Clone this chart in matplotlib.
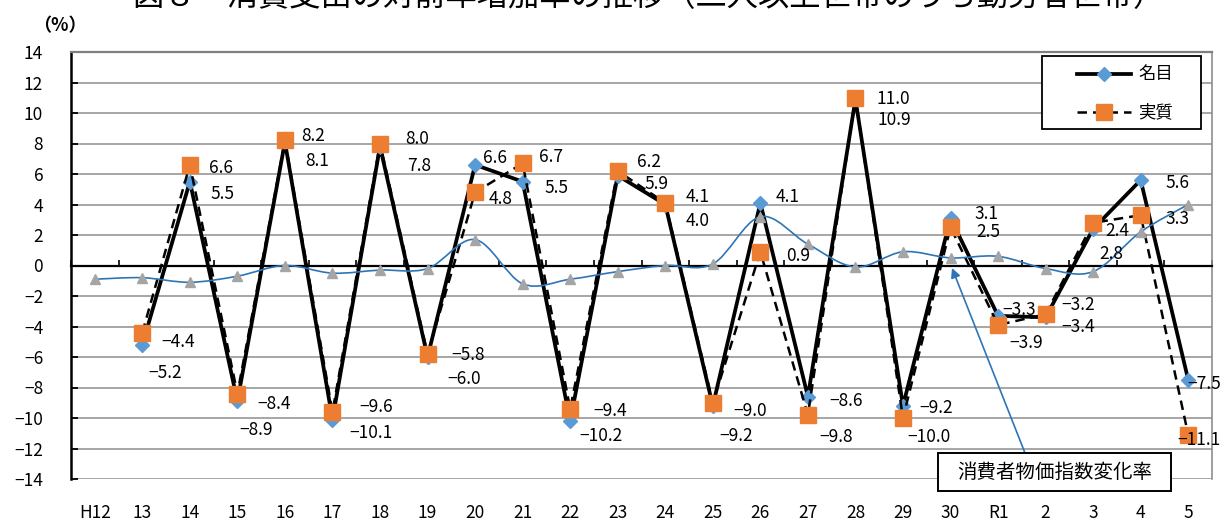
import numpy as np
import matplotlib
matplotlib.use("Agg")
import matplotlib.pyplot as plt
from matplotlib.path import Path
from matplotlib.patches import PathPatch, Rectangle
from matplotlib.lines import Line2D

plt.rcParams['font.family'] = ['Noto Sans CJK JP', 'DejaVu Sans']

# ---- data -------------------------------------------------------------
years = ['H12', '13', '14', '15', '16', '17', '18', '19', '20', '21', '22',
         '23', '24', '25', '26', '27', '28', '29', '30', 'R1', '2', '3', '4', '5']

# 名目 (nominal) and 実質 (real) year-on-year change of consumption expenditure, %
nominal = [np.nan, -5.2, 5.5, -8.9, 8.1, -10.1, 7.8, -6.0, 6.6, 5.5, -10.2,
           5.9, 4.0, -9.2, 4.1, -8.6, 10.9, -9.2, 3.1, -3.3, -3.4, 2.4, 5.6, -7.5]
real = [np.nan, -4.4, 6.6, -8.4, 8.2, -9.6, 8.0, -5.8, 4.8, 6.7, -9.4,
        6.2, 4.1, -9.0, 0.9, -9.8, 11.0, -10.0, 2.5, -3.9, -3.2, 2.8, 3.3, -11.1]

# consumer price index change, %
cpi = [-0.9, -0.8, -1.1, -0.7, 0.0, -0.5, -0.3, -0.2, 1.7, -1.2, -0.9,
       -0.4, 0.0, 0.1, 3.2, 1.4, -0.1, 0.9, 0.5, 0.6, -0.2, -0.4, 2.2, 4.0]

# value-label offsets in pixels (dx to the right, dy downward) per category
nom_dx = [0, 6.5, 21, 1.5, 20, 16.5, 27, 19.5, 8, 21.5, 9, 26.5, 20, 6.5, 15,
          21.5, 22, 16.5, 24, 4.5, 16, 12.5, 25, -0.5]
nom_dy = [0, 28, 12, 29, 19.5, 13, 19, 21.5, -7, 6, 14.5, 8, 17, 30, -5.5,
          4, 21, 2, -4, -6, 10, 2, 3, 4]
real_dx = [0, 19.5, 19, 19.5, 16, 26.5, 25, 23.5, 14, 16.5, 23, 19.5, 20, 20.5,
           26, 11.5, 21, 4.5, 26, 11.5, 16, 6.5, 25, -10.5]
real_dy = [0, 9, 3, 10, -4, -5, -4, 1, 7, -6, 2, -9, -5.5, 8, 4, 22.5, 1,
           19.5, 5, 18.5, -9, 31, 4, 5]

# ---- styles -----------------------------------------------------------
BLUE_M = '#5B9BD5'
ORANGE_M = '#ED7D31'
GRAY_M = '#A5A5A5'
CPI_LINE = '#2E75B6'
GRID = '#8E8E8E'
FS = 12.5

W, H = 1222, 522
fig = plt.figure(figsize=(W / 100, H / 100), dpi=100)
ax = fig.add_axes([71 / W, 1 - 479 / H, (1212 - 71) / W, (479 - 52) / H])

x = np.arange(len(years))
ax.set_xlim(-0.5, len(years) - 0.5)
ax.set_ylim(-14, 14)

# grid and frame
ax.set_yticks(np.arange(-14, 15, 2))
ax.yaxis.grid(True, color=GRID, lw=1.1)
ax.set_axisbelow(True)
ax.spines['left'].set_color('black')
ax.spines['left'].set_linewidth(1.8)
ax.spines['top'].set_color('#7F7F7F')
ax.spines['top'].set_linewidth(1.6)
ax.spines['right'].set_color(GRID)
ax.spines['right'].set_linewidth(1.2)
ax.spines['bottom'].set_position(('data', 0))
ax.spines['bottom'].set_color('black')
ax.spines['bottom'].set_linewidth(1.6)

ax.tick_params(axis='y', direction='in', length=5, width=1.3, color='black',
               labelsize=FS, pad=20)
ax.set_xticks(np.arange(-0.5, len(years), 1.0))
ax.set_xticklabels([])
ax.tick_params(axis='x', direction='in', length=4.5, width=1.2, color='black')

# category labels along the bottom of the plot area
sec = ax.secondary_xaxis('bottom')
sec.set_xticks(x, labels=years)
sec.tick_params(length=0, pad=18, labelsize=FS)
sec.spines['bottom'].set_visible(False)

# nominal and real lines
ax.plot(x, nominal, color='black', lw=2.7, marker='D', ms=7,
        mfc=BLUE_M, mec=BLUE_M, zorder=3, solid_joinstyle='miter')
ax.plot(x, real, color='black', lw=1.8, dashes=(3.8, 2.4), marker='s', ms=11,
        mfc=ORANGE_M, mec=ORANGE_M, zorder=3.2)

# smoothed CPI line (cubic Bezier segments through the points)
pts = np.column_stack([x, cpi]).astype(float)
verts = [pts[0]]
codes = [Path.MOVETO]
n = len(pts)
for i in range(n - 1):
    p0 = pts[max(i - 1, 0)]
    p1 = pts[i]
    p2 = pts[i + 1]
    p3 = pts[min(i + 2, n - 1)]
    c1 = p1 + (p2 - p0) / 6.0
    c2 = p2 - (p3 - p1) / 6.0
    verts += [c1, c2, p2]
    codes += [Path.CURVE4] * 3
ax.add_patch(PathPatch(Path(verts, codes), fill=False, edgecolor=CPI_LINE,
                       lw=1.2, zorder=4))
ax.plot(x, cpi, ls='none', marker='^', ms=7, mfc=GRAY_M, mec=GRAY_M, zorder=4.2)


def fmt(v):
    s = f"{abs(v):.1f}"
    return ("\u2212" + s) if v < 0 else s


for i in range(len(years)):
    if not np.isnan(nominal[i]):
        ax.annotate(fmt(nominal[i]), xy=(x[i], nominal[i]),
                    xytext=(nom_dx[i] * 0.72, -nom_dy[i] * 0.72),
                    textcoords='offset points', ha='left', va='center',
                    fontsize=FS, zorder=6)
    if not np.isnan(real[i]):
        ax.annotate(fmt(real[i]), xy=(x[i], real[i]),
                    xytext=(real_dx[i] * 0.72, -real_dy[i] * 0.72),
                    textcoords='offset points', ha='left', va='center',
                    fontsize=FS, zorder=6)


def fx(px):
    return px / W


def fy(py):
    return 1 - py / H


# legend
fig.add_artist(Rectangle((fx(1042), fy(129)), fx(1201) - fx(1042), fy(56) - fy(129),
                         transform=fig.transFigure, facecolor='white',
                         edgecolor='black', lw=1.3, zorder=5))
fig.add_artist(Line2D([fx(1077), fx(1131)], [fy(74), fy(74)], color='black', lw=2.7,
                      transform=fig.transFigure, zorder=6))
fig.add_artist(Line2D([fx(1104)], [fy(74)], marker='D', ms=7, mfc=BLUE_M, mec=BLUE_M,
                      ls='none', transform=fig.transFigure, zorder=6.1))
fig.add_artist(Line2D([fx(1077), fx(1131)], [fy(112), fy(112)], color='black', lw=1.8,
                      dashes=(3.8, 2.4), transform=fig.transFigure, zorder=6))
fig.add_artist(Line2D([fx(1104)], [fy(112)], marker='s', ms=11, mfc=ORANGE_M,
                      mec=ORANGE_M, ls='none', transform=fig.transFigure, zorder=6.1))
fig.text(fx(1138), fy(74), '名目', fontsize=FS, ha='left', va='center', zorder=7)
fig.text(fx(1138), fy(112), '実質', fontsize=FS, ha='left', va='center', zorder=7)

# callout for the CPI line
fig.add_artist(Rectangle((fx(938), fy(491)), fx(1171) - fx(938), fy(453) - fy(491),
                         transform=fig.transFigure, facecolor='white',
                         edgecolor='black', lw=1.4, zorder=5))
fig.text(fx(1055), fy(472), '消費者物価指数変化率', fontsize=14, ha='center',
         va='center', zorder=7)
ax.annotate('', xy=(952, H - 268), xycoords='figure pixels',
            xytext=(1025, H - 453), textcoords='figure pixels',
            arrowprops=dict(arrowstyle='-|>', color=CPI_LINE, lw=1.2,
                            mutation_scale=14, shrinkA=0, shrinkB=0),
            zorder=5)

# title (runs off the top edge) and unit
fig.text(649 / W, fy(6), '図８　消費支出の対前年増加率の推移（二人以上世帯のうち勤労者世帯）',
         fontsize=22.5, ha='center', va='baseline')
fig.text(fx(60), fy(26), '（%）', fontsize=13, ha='center', va='center',
         fontweight='bold')

fig.savefig('out.png', dpi=100)
